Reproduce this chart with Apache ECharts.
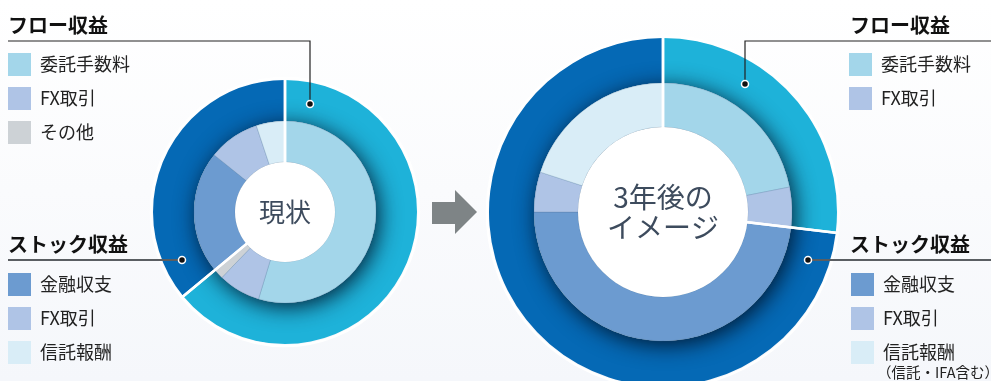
<!DOCTYPE html>
<html lang="ja">
<head>
<meta charset="utf-8">
<title>収益構成</title>
<script src="https://cdn.jsdelivr.net/npm/echarts@6/dist/echarts.min.js"></script>
<style>
  html, body { margin: 0; padding: 0; background: #fff; }
  #chart { width: 991px; height: 381px; }
</style>
</head>
<body>
<div id="chart"></div>
<script>
// Revenue mix: today vs. the three-year plan (share of total, %)
const flowNames   = ['委託手数料', 'FX取引', 'その他'];
const stockNames  = ['金融収支', 'FX取引', '信託報酬'];
const flowNow     = [54.7, 7.5, 1.8];
const stockNow    = [21.8, 9.1, 5.1];
const flowLater   = [21.9, 5.0];
const stockLater  = [48.1, 5.0, 20.0];
const groupNames  = ['フロー収益', 'ストック収益'];
const centerNow   = '現状';
const centerLater = '3年後の\nイメージ';
const trustNote   = '（信託・IFA含む）';

const FONT = '"Noto Sans CJK JP", "Noto Sans", sans-serif';
const COLORS = {
  flow: '#1eb2d9', stock: '#0569b5',
  '委託手数料': '#a3d6ea', 'FX取引': '#afc4e6', 'その他': '#cdd2d6',
  '金融収支': '#6c9bd0', '信託報酬': '#d9edf7'
};

const sum = a => a.reduce((s, v) => s + v, 0);

function donut(center, rHole, rMid, rOuter, flow, stock, label, labelStyle) {
  const innerData = []
    .concat(flow.map((v, i) => ({ name: flowNames[i], value: v })))
    .concat(stock.map((v, i) => ({ name: stockNames[i], value: v })))
    .map(d => ({ ...d, itemStyle: { color: COLORS[d.name] } }));
  const groups = [sum(flow), sum(stock)];
  const base = {
    type: 'pie', center, silent: true, animation: false,
    startAngle: 90, clockwise: true,
    label: { show: false }, labelLine: { show: false },
    emphasis: { disabled: true }
  };
  return [
    // outer ring: flow vs stock totals
    { ...base, z: 1, radius: [rMid, rOuter],
      data: groups.map((v, i) => ({ name: groupNames[i], value: v,
        itemStyle: { color: i === 0 ? COLORS.flow : COLORS.stock } })) },
    // soft shadow of the inner ring on the outer ring
    { ...base, z: 2, radius: [rHole, rMid],
      data: [{ name: 'inner-shade', value: sum(groups),
        itemStyle: { color: '#a3d6ea', shadowBlur: 22, shadowOffsetX: 3, shadowOffsetY: 4,
          shadowColor: 'rgba(0,15,35,0.9)' } }] },
    // inner ring: breakdown
    { ...base, z: 3, radius: [rHole, rMid], data: innerData,
      itemStyle: { borderColor: 'rgba(70,100,140,0.35)', borderWidth: 0.6 } },
    // white dividers between the two groups
    { ...base, z: 4, radius: [rHole - 2, rOuter + 2],
      data: groups.map((v, i) => ({ name: 'divider' + i, value: v,
        itemStyle: { color: 'rgba(0,0,0,0)', borderColor: '#ffffff', borderWidth: 2.5 } })) },
    // centre disc with caption
    { ...base, z: 5, radius: [0, rHole],
      data: [{ name: 'centre', value: 1, itemStyle: { color: '#ffffff' } }],
      label: { show: true, position: 'center', formatter: label,
        fontFamily: FONT, color: '#3d4b5d', ...labelStyle } }
  ];
}

const legendBase = {
  orient: 'vertical', icon: 'rect', itemWidth: 23, itemHeight: 23, itemGap: 11,
  padding: 0, selectedMode: false, itemStyle: { borderWidth: 0 },
  textStyle: { fontFamily: FONT, fontSize: 18, color: '#222', padding: [0, 0, 0, 4] }
};

const headStyle = { fontFamily: FONT, fontSize: 20, fontWeight: 'bold', fill: '#111', verticalAlign: 'middle' };
const dot = (x, y, stroke) => ({ type: 'circle', shape: { cx: x, cy: y, r: 3.5 },
  style: { fill: '#111', stroke: stroke, lineWidth: 1.5 }, z: 20 });

const option = {
  backgroundColor: { type: 'linear', x: 0, y: 0, x2: 0, y2: 1,
    colorStops: [{ offset: 0, color: '#ffffff' }, { offset: 1, color: '#f5f7fb' }] },
  animation: false,
  legend: [
    { ...legendBase, left: 8, top: 53, data: flowNames.slice(0, flowNow.length) },
    { ...legendBase, left: 8, top: 273, data: stockNames },
    { ...legendBase, left: 849, top: 53, data: flowNames.slice(0, flowLater.length) },
    { ...legendBase, left: 851, top: 273, data: stockNames }
  ],
  series: []
    .concat(donut([285, 212], 50, 91, 132, flowNow, stockNow, centerNow,
      { fontSize: 26 }))
    .concat(donut([663, 212], 85, 129, 174, flowLater, stockLater, centerLater,
      { fontSize: 28, lineHeight: 30 })),
  graphic: [
    // group headings and leader lines, left side
    { type: 'text', left: 8, top: 15, style: { ...headStyle, text: groupNames[0] }, z: 20 },
    { type: 'polyline', shape: { points: [[8, 41], [310, 41], [310, 104]] },
      style: { stroke: '#222', lineWidth: 1.2, fill: null }, z: 20 },
    dot(310, 104, '#ffffff'),
    { type: 'text', left: 8, top: 234, style: { ...headStyle, text: groupNames[1] }, z: 20 },
    { type: 'line', shape: { x1: 8, y1: 260, x2: 182, y2: 260 },
      style: { stroke: '#5a5e62', lineWidth: 2 }, z: 20 },
    dot(182, 260, '#ffffff'),
    // right side
    { type: 'text', left: 850, top: 15, style: { ...headStyle, text: groupNames[0] }, z: 20 },
    { type: 'polyline', shape: { points: [[991, 41], [745, 41], [745, 84]] },
      style: { stroke: '#222', lineWidth: 1.2, fill: null }, z: 20 },
    dot(745, 84, '#ffffff'),
    { type: 'text', left: 850, top: 234, style: { ...headStyle, text: groupNames[1] }, z: 20 },
    { type: 'line', shape: { x1: 808, y1: 260, x2: 991, y2: 260 },
      style: { stroke: '#5a5e62', lineWidth: 2 }, z: 20 },
    dot(808, 260, '#ffffff'),
    { type: 'text', left: 877, top: 365,
      style: { text: trustNote, fontFamily: FONT, fontSize: 14.5, fill: '#222' }, z: 20 },
    // transition arrow
    { type: 'polygon', shape: { points: [[432, 202], [455, 202], [455, 190], [477, 212],
      [455, 234], [455, 224], [432, 224]] }, style: { fill: '#7e8486' }, z: 20 }
  ]
};

const chart = echarts.init(document.getElementById('chart'), null, { renderer: 'canvas' });
chart.setOption(option);
</script>
</body>
</html>
